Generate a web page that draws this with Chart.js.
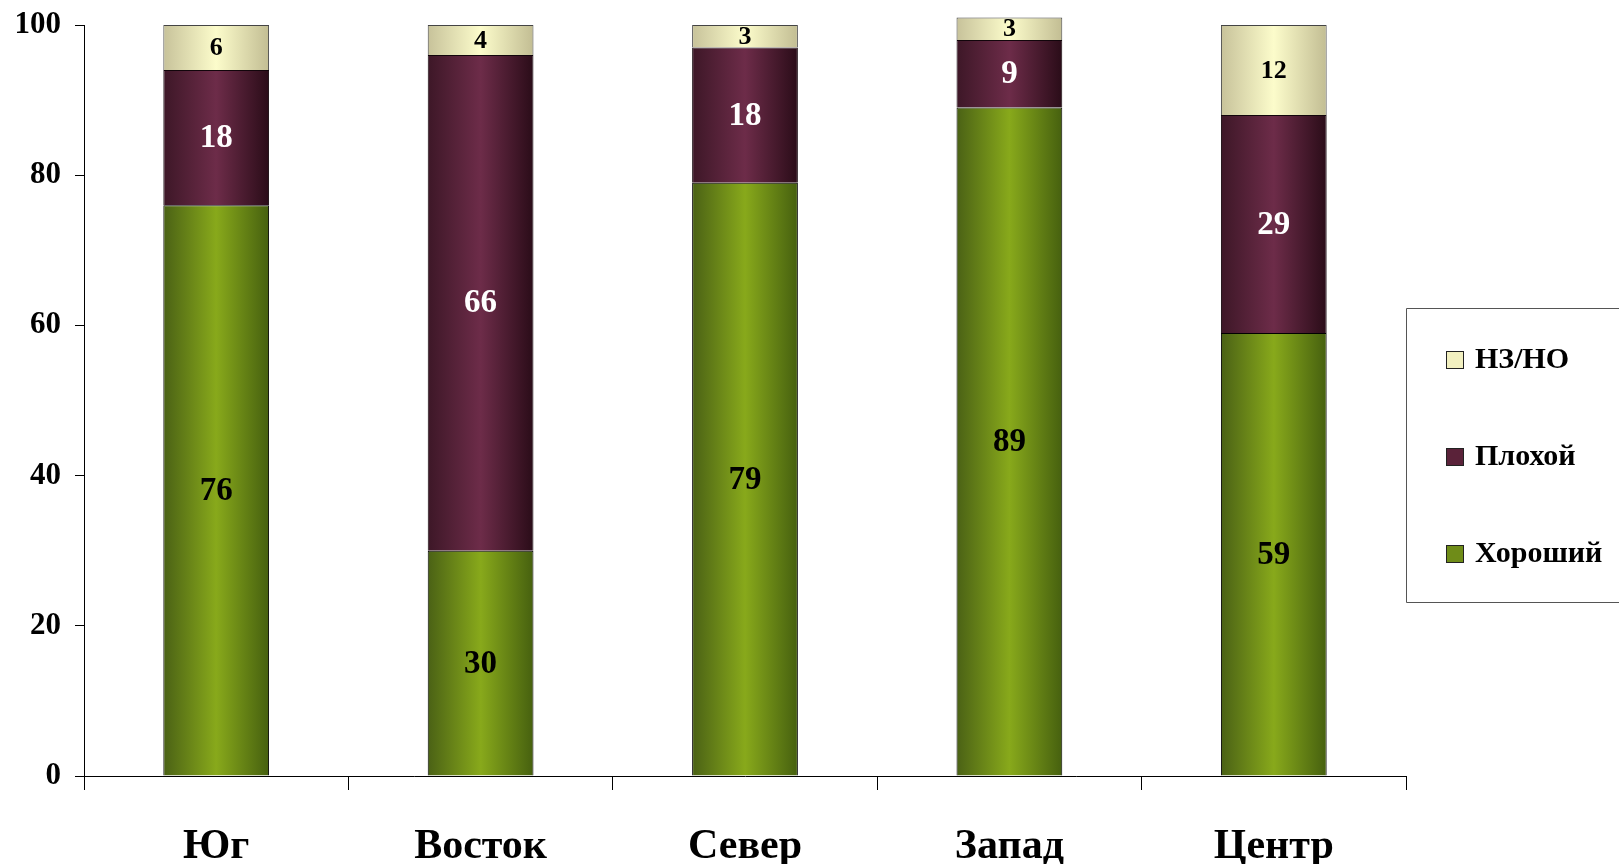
<!DOCTYPE html>
<html>
<head>
<meta charset="utf-8">
<script src="https://cdn.jsdelivr.net/npm/chart.js@4/dist/chart.umd.min.js"></script>
<style>
html,body{margin:0;padding:0;background:#fff;}
#wrap{width:1619px;height:864px;position:relative;}
</style>
</head>
<body>
<div id="wrap"><canvas id="c" width="1619" height="864"></canvas></div>
<script>
const categories = ["Юг", "Восток", "Север", "Запад", "Центр"];
const seriesNames = ["Хороший", "Плохой", "НЗ/НО"];
const good = [76, 30, 79, 89, 59];
const bad = [18, 66, 18, 9, 29];
const unknown = [6, 4, 3, 3, 12];
const yTicks = [0, 20, 40, 60, 80, 100];

const FONT = "'Liberation Serif', 'Times New Roman', serif";
const greenStops = ["#4a6115", "#88a91b", "#46600f"];
const purpleStops = ["#3d1727", "#6d2c49", "#2a0c18"];
const creamStops = ["#c7c29a", "#fcfccb", "#c2bd93"];

function grad(stops) {
  return function(ctx) {
    const chart = ctx.chart;
    const ca = chart.chartArea;
    if (!ca || !chart.scales.x) return stops[1];
    const cx = chart.scales.x.getPixelForValue(ctx.dataIndex);
    const w = (ca.right - ca.left) / categories.length * 0.4;
    const g = chart.ctx.createLinearGradient(cx - w / 2, 0, cx + w / 2, 0);
    g.addColorStop(0, stops[0]);
    g.addColorStop(0.5, stops[1]);
    g.addColorStop(1, stops[2]);
    return g;
  };
}

const labelPlugin = {
  id: 'segLabels',
  afterDatasetsDraw(chart) {
    const c = chart.ctx;
    c.save();
    c.textAlign = 'center';
    c.textBaseline = 'middle';
    chart.data.datasets.forEach((ds, di) => {
      const meta = chart.getDatasetMeta(di);
      meta.data.forEach((el, i) => {
        const v = ds.data[i];
        const y = (el.y + el.base) / 2;
        c.fillStyle = ds.labelColor;
        c.font = 'bold ' + ds.labelSize + 'px ' + FONT;
        c.fillText(String(v), el.x, y + 1);
      });
    });
    c.restore();
  }
};

const legendPlugin = {
  id: 'boxLegend',
  afterDraw(chart) {
    const c = chart.ctx;
    const ca = chart.chartArea;
    const left = ca.right;
    const top = 308, bottom = 602;
    c.save();
    c.strokeStyle = '#555';
    c.lineWidth = 1;
    c.beginPath();
    c.moveTo(chart.width + 5, top + 0.5);
    c.lineTo(left + 0.5, top + 0.5);
    c.lineTo(left + 0.5, bottom + 0.5);
    c.lineTo(chart.width + 5, bottom + 0.5);
    c.stroke();
    const items = chart.data.datasets.slice().reverse();
    const ys = [359, 456, 553];
    items.forEach((ds, k) => {
      const y = ys[k];
      c.fillStyle = ds.legendColor;
      c.fillRect(left + 40, y - 8, 17, 17);
      c.strokeStyle = '#222';
      c.strokeRect(left + 40.5, y - 7.5, 17, 17);
      c.fillStyle = '#000';
      c.font = 'bold 30px ' + FONT;
      c.textAlign = 'left';
      c.textBaseline = 'middle';
      c.fillText(ds.label, left + 69, y + 1);
    });
    c.restore();
  }
};

new Chart(document.getElementById('c'), {
  type: 'bar',
  data: {
    labels: categories,
    datasets: [
      { label: seriesNames[0], data: good, backgroundColor: grad(greenStops), borderColor: '#000', borderWidth: 1,
        labelColor: '#000', labelSize: 33, legendColor: '#6f8c18', clip: false },
      { label: seriesNames[1], data: bad, backgroundColor: grad(purpleStops), borderColor: '#12050b', borderWidth: 1,
        labelColor: '#fff', labelSize: 33, legendColor: '#5a2239', clip: false },
      { label: seriesNames[2], data: unknown, backgroundColor: grad(creamStops), borderColor: '#444', borderWidth: 1,
        labelColor: '#000', labelSize: 26, legendColor: '#f2f0c0', clip: false }
    ]
  },
  options: {
    responsive: false,
    animation: false,
    events: [],
    layout: { padding: { top: 25, right: 213, bottom: 0, left: 0 } },
    datasets: { bar: { barPercentage: 0.4, categoryPercentage: 1.0 } },
    plugins: { legend: { display: false }, tooltip: { enabled: false } },
    scales: {
      x: {
        stacked: true,
        grid: { display: true, drawOnChartArea: false, drawTicks: true, tickLength: 14, color: '#000', offset: true },
        border: { display: true, color: '#000', width: 1 },
        ticks: { color: '#000', font: { family: FONT, size: 42, weight: 'bold' }, padding: 32 },
        afterFit(s) { s.height = 88; s.paddingLeft = 0; s.paddingRight = 0; }
      },
      y: {
        stacked: true,
        min: 0, max: 100,
        afterBuildTicks(s) { s.ticks = yTicks.map(v => ({ value: v })); },
        grid: { display: true, drawOnChartArea: false, drawTicks: true, tickLength: 9, color: '#000' },
        border: { display: true, color: '#000', width: 1 },
        ticks: { color: '#000', font: { family: FONT, size: 31, weight: 'bold', lineHeight: 1 }, padding: 14 },
        afterFit(s) { s.width = 84; s.paddingTop = 0; s.paddingBottom = 0; }
      }
    }
  },
  plugins: [labelPlugin, legendPlugin]
});
</script>
</body>
</html>
